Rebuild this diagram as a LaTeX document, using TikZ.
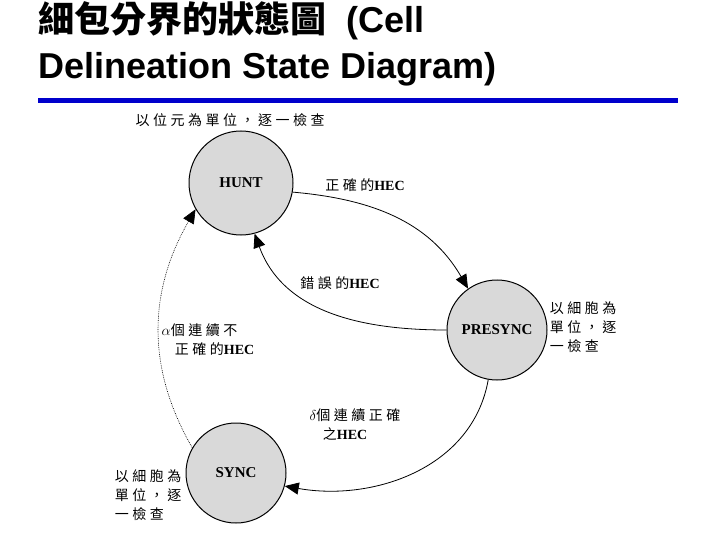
\documentclass[tikz,border=0pt]{standalone}
\usepackage{fontspec}
\setmainfont{Liberation Serif}
\newfontfamily\cjk[LetterSpace=25]{Noto Sans CJK TC}
\newfontfamily\cjkt{Noto Sans CJK TC}
\newfontfamily\ttl{Liberation Sans}
\usetikzlibrary{arrows.meta}
\begin{document}
\begin{tikzpicture}[x=1pt,y=-1pt,
  st/.style={circle,draw=black,line width=1pt,fill=gray!30,minimum size=104pt,font=\bfseries\fontsize{15}{15}\selectfont},
  lbl/.style={font=\cjk\fontsize{14}{19}\selectfont,align=left},
  tr/.style={line width=0.8pt,-{Triangle[length=14pt,width=12pt]}}]
\useasboundingbox (0,0) rectangle (720,540);
\node[anchor=west,font=\ttl\bfseries\fontsize{36}{46}\selectfont,align=left,inner sep=0pt] (title) at (38,44) {{\cjkt 細包分界的狀態圖}\ \ (Cell\\Delineation State Diagram)};
\draw[line width=5pt,blue!80!black] (38,101) coordinate (l1) -- (678,101) coordinate (l2);
\node[st] (hunt) at (241,183) {HUNT};
\node[st,minimum size=100pt] (pre) at (497,330) {PRESYNC};
\node[st,minimum size=100pt] (sync) at (236,473) {SYNC};
\node[lbl] (t1) at (230,120) {以位元為單位，逐一檢查};
\node[lbl] (t2) at (365,185) {正確的{\rmfamily\bfseries HEC}};
\node[lbl] (t3) at (340,283) {錯誤的{\rmfamily\bfseries HEC}};
\node[lbl] (t4) at (583,327) {以細胞為\\單位，逐\\一檢查};
\node[lbl] (t5) at (208,340) {$\alpha$個連續不\\\ \ 正確的{\rmfamily\bfseries HEC}};
\node[lbl] (t6) at (355,425) {$\delta$個連續正確\\\ \ 之{\rmfamily\bfseries HEC}};
\node[lbl] (t7) at (148,495) {以細胞為\\單位，逐\\一檢查};
\draw[tr] (hunt.-10) to[out=-5,in=120] (pre.125);
\draw[tr] (pre.west) to[out=180,in=-70] (hunt.-75);
\draw[tr,densely dotted,line width=0.6pt] (sync.150) to[out=120,in=-120] (hunt.-150);
\draw[tr] (pre.-100) to[out=-100,in=-10] (sync.-15);
\end{tikzpicture}
\end{document}
